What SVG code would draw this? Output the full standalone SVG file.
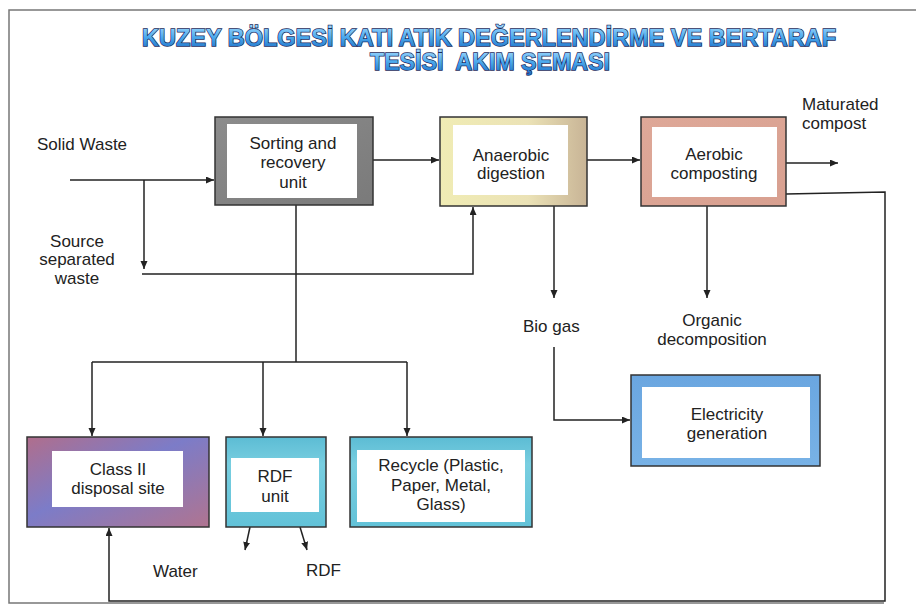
<svg xmlns="http://www.w3.org/2000/svg" width="916" height="616" viewBox="0 0 916 616">
  <defs>
    <style>
      .lbl { font-family: "Liberation Sans", Arial, sans-serif; font-size: 17px; fill: #222; }
      .mid { text-anchor: middle; }
      .edge { fill: none; stroke: #222; stroke-width: 1.5; }
      .box { stroke: #333; stroke-width: 1.5; }
      .inner { fill: #fff; }
      .ttl { font-family: "Liberation Sans", Arial, sans-serif; font-weight: bold; font-size: 23px; text-anchor: middle; }
    </style>
    <marker id="arr" markerUnits="userSpaceOnUse" markerWidth="9" markerHeight="8" refX="8" refY="3.5" orient="auto">
      <path d="M0,0 L8,3.5 L0,7 z" fill="#222"/>
    </marker>
    <linearGradient id="gTitle" x1="0" y1="0" x2="0" y2="1">
      <stop offset="0" stop-color="#a6dcff"/>
      <stop offset="0.5" stop-color="#4aa8ec"/>
      <stop offset="1" stop-color="#1a6cc4"/>
    </linearGradient>
    <linearGradient id="gSort" x1="0" y1="0" x2="1" y2="1">
      <stop offset="0" stop-color="#8c8c8c"/>
      <stop offset="1" stop-color="#7a7a7a"/>
    </linearGradient>
    <linearGradient id="gAna" x1="0" y1="0" x2="1" y2="0">
      <stop offset="0" stop-color="#f0ecb4"/>
      <stop offset="0.6" stop-color="#ebe2b6"/>
      <stop offset="1" stop-color="#c8b496"/>
    </linearGradient>
    <linearGradient id="gAer" x1="0" y1="0" x2="1" y2="1">
      <stop offset="0" stop-color="#dea898"/>
      <stop offset="1" stop-color="#d8a090"/>
    </linearGradient>
    <linearGradient id="gCls" x1="0" y1="0" x2="1" y2="1">
      <stop offset="0" stop-color="#b06e8c"/>
      <stop offset="0.45" stop-color="#7c7cc8"/>
      <stop offset="1" stop-color="#b07490"/>
    </linearGradient>
    <linearGradient id="gCyan" x1="0" y1="0" x2="0" y2="1">
      <stop offset="0" stop-color="#5cbcd4"/>
      <stop offset="0.3" stop-color="#78cee0"/>
      <stop offset="1" stop-color="#62c2d8"/>
    </linearGradient>
    <linearGradient id="gElec" x1="0" y1="0" x2="0" y2="1">
      <stop offset="0" stop-color="#6aa6e0"/>
      <stop offset="1" stop-color="#78b2e6"/>
    </linearGradient>
  </defs>

  <rect width="916" height="616" fill="#fff"/>
  <!-- page frame -->
  <path d="M916 10 H9 V603 H884" fill="none" stroke="#777" stroke-width="1.5"/>

  <!-- title -->
  <g id="title">
    <text class="ttl" x="489" y="46" textLength="694" lengthAdjust="spacingAndGlyphs" fill="url(#gTitle)" stroke="#1b2b5c" stroke-width="1.4" paint-order="stroke">KUZEY BÖLGESİ KATI ATIK DEĞERLENDİRME VE BERTARAF</text>
    <text class="ttl" x="490" y="70" textLength="240" lengthAdjust="spacingAndGlyphs" fill="url(#gTitle)" stroke="#1b2b5c" stroke-width="1.4" paint-order="stroke" xml:space="preserve">TESİSİ  AKIM ŞEMASI</text>
  </g>

  <!-- connectors -->
  <g id="connectors">
    <path class="edge" d="M70 180 H214" marker-end="url(#arr)"/>
    <path class="edge" d="M144 180 V269" marker-end="url(#arr)"/>
    <path class="edge" d="M142 274 H473 V207" marker-end="url(#arr)"/>
    <path class="edge" d="M373 160 H439" marker-end="url(#arr)"/>
    <path class="edge" d="M587 160 H640" marker-end="url(#arr)"/>
    <path class="edge" d="M786 163 H838" marker-end="url(#arr)"/>
    <path class="edge" d="M786 194 L885 192 V601 H109 V528" marker-end="url(#arr)"/>
    <path class="edge" d="M296 205 V362"/>
    <path class="edge" d="M92 362 H407"/>
    <path class="edge" d="M92 362 V436" marker-end="url(#arr)"/>
    <path class="edge" d="M263 362 V436" marker-end="url(#arr)"/>
    <path class="edge" d="M407 362 V436" marker-end="url(#arr)"/>
    <path class="edge" d="M250 527 L245 550" marker-end="url(#arr)"/>
    <path class="edge" d="M300 527 L307 550" marker-end="url(#arr)"/>
    <path class="edge" d="M554 206 V298" marker-end="url(#arr)"/>
    <path class="edge" d="M554 347 V420 H630" marker-end="url(#arr)"/>
    <path class="edge" d="M707 206 V298" marker-end="url(#arr)"/>
  </g>

  <!-- free labels -->
  <g id="labels">
    <text class="lbl" x="37" y="150">Solid Waste</text>
    <text class="lbl mid" x="77" y="247">Source</text>
    <text class="lbl mid" x="77" y="265">separated</text>
    <text class="lbl mid" x="77" y="284">waste</text>
    <text class="lbl" x="802" y="110">Maturated</text>
    <text class="lbl" x="802" y="129">compost</text>
    <text class="lbl" x="523" y="332">Bio gas</text>
    <text class="lbl mid" x="712" y="326">Organic</text>
    <text class="lbl mid" x="712" y="345">decomposition</text>
    <text class="lbl" x="153" y="577">Water</text>
    <text class="lbl" x="306" y="576">RDF</text>
  </g>

  <!-- process units -->
  <g id="sorting">
    <rect class="box" x="215" y="117" width="158" height="88" fill="url(#gSort)"/>
    <rect class="inner" x="227" y="124" width="130" height="74"/>
    <text class="lbl mid" x="293" y="149">Sorting and</text>
    <text class="lbl mid" x="293" y="168">recovery</text>
    <text class="lbl mid" x="293" y="188">unit</text>
  </g>

  <g id="anaerobic">
    <rect class="box" x="440" y="117" width="147" height="89" fill="url(#gAna)"/>
    <rect class="inner" x="453" y="125" width="115" height="70"/>
    <text class="lbl mid" x="511" y="161">Anaerobic</text>
    <text class="lbl mid" x="511" y="179">digestion</text>
  </g>

  <g id="aerobic">
    <rect class="box" x="641" y="117" width="145" height="89" fill="url(#gAer)"/>
    <rect class="inner" x="652" y="127" width="125" height="70"/>
    <text class="lbl mid" x="714" y="160">Aerobic</text>
    <text class="lbl mid" x="714" y="179">composting</text>
  </g>

  <g id="electricity">
    <rect class="box" x="631" y="375" width="189" height="91" fill="url(#gElec)"/>
    <rect class="inner" x="642" y="387" width="168" height="71"/>
    <text class="lbl mid" x="727" y="420">Electricity</text>
    <text class="lbl mid" x="727" y="439">generation</text>
  </g>

  <g id="disposal">
    <rect class="box" x="27" y="437" width="182" height="90" fill="url(#gCls)"/>
    <rect class="inner" x="52" y="451" width="131" height="56"/>
    <text class="lbl mid" x="118" y="475">Class II</text>
    <text class="lbl mid" x="118" y="494">disposal site</text>
  </g>

  <g id="rdf">
    <rect class="box" x="226" y="437" width="100" height="90" fill="url(#gCyan)"/>
    <rect class="inner" x="231" y="458" width="88" height="54"/>
    <text class="lbl mid" x="275" y="482">RDF</text>
    <text class="lbl mid" x="275" y="502">unit</text>
  </g>

  <g id="recycle">
    <rect class="box" x="350" y="437" width="182" height="90" fill="url(#gCyan)"/>
    <rect class="inner" x="357" y="450" width="168" height="72"/>
    <text class="lbl mid" x="441" y="471">Recycle (Plastic,</text>
    <text class="lbl mid" x="441" y="491">Paper, Metal,</text>
    <text class="lbl mid" x="441" y="510">Glass)</text>
  </g>
</svg>
